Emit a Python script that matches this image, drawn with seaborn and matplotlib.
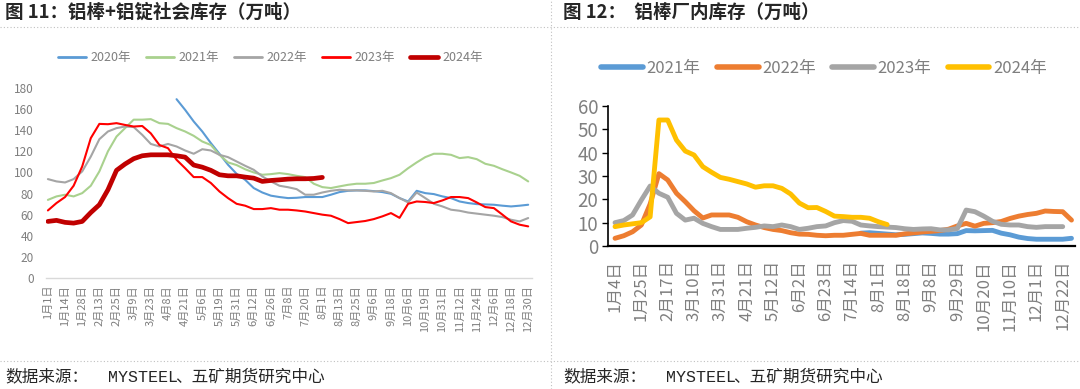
import numpy as np
import pandas as pd
import seaborn as sns
import matplotlib.pyplot as plt
from matplotlib.lines import Line2D

nan = np.nan

# ---- 图11: 铝棒+铝锭社会库存 (sampled every 4.5 trading days) ----
left_ticks = ["1月1日", "1月14日", "1月28日", "2月13日", "2月25日", "3月9日", "3月23日",
              "4月8日", "4月21日", "5月6日", "5月19日", "5月31日", "6月12日", "6月26日",
              "7月8日", "7月20日", "8月1日", "8月13日", "8月25日", "9月6日", "9月18日",
              "10月6日", "10月19日", "10月31日", "11月12日", "11月24日", "12月6日",
              "12月18日", "12月30日"]

soc_2020 = [nan] * 15 + [169.4, 159.3, 148.3, 138.8, 127.8, 117.7, 107.3, 98.7, 93, 85.2, 81, 78, 76.7,
                         75.7, 76, 76.7, 76.7, 76.7, 78.9, 81.4, 82.6, 83, 83, 82.3, 81.4, 79.8, 75.7,
                         72.5, 82.6, 80.4, 79.5, 77.3, 75.7, 72.5, 71, 70, 69.7, 69.4, 68.5, 67.8, 68.5, 69.4]
soc_2021 = [74, 77.3, 78.9, 77.3, 80.4, 87.4, 101, 120, 134, 142, 150, 150, 150.5, 146.7, 146, 142,
            138.8, 134.7, 129.3, 126, 116.7, 109.5, 107, 103, 100, 97.8, 98.4, 99.4,
            98.4, 96.8, 95.6, 89.3, 86.1, 85.2, 86.8, 88.3, 89.3, 89.3, 90, 92.4, 94.6, 97.8, 104,
            109.5, 114.5, 117.7, 117.7, 116.7, 113.6, 114.5, 112.6, 108.2, 106.3, 103, 100, 96.8, 91.5]
soc_2022 = [93.7, 91.5, 90.5, 93.7, 101, 115, 131.5, 138.8, 142, 143.5, 143, 135.6, 127, 124.6, 127,
            124.6, 120.8, 117.7, 122, 120.8, 116.7, 114.5, 110.4, 106.3, 102.5, 96.2, 91.5, 87.4,
            86, 84.2, 78.9, 78.9, 81, 82.6, 83.6, 83, 83, 82.6, 82, 82.6, 80.4, 75.7, 71.6, 81,
            75.7, 70.3, 67.8, 64.7, 63.7, 62, 61, 60, 59, 57.7, 55.2, 53.6, 56.8]
soc_2023 = [64, 71, 76.7, 87.4, 105.7, 132.5, 146, 145.7, 146.7, 145, 143.5, 144, 137, 126, 123, 112,
            104, 95.6, 95.6, 90, 82, 75.7, 70.3, 68.5, 65.3, 65.3, 66.2, 64.7,
            64.7, 64, 63, 61.5, 60, 59, 55.8, 52, 53, 54, 55.8, 58.4, 61.5, 57, 70.3, 72.5, 72, 71,
            73.5, 76.7, 76.7, 75.7, 71.6, 67.2, 66.2, 60, 53.6, 50.5, 48.9]
soc_2024 = [53.6, 54.6, 52.7, 52, 53.6, 62, 69.4, 83.6, 102, 108, 113, 115.8, 116.7, 116.7, 116.7,
            115.8, 114.5, 107, 105, 102, 97.8, 96.8, 96.8, 95.6, 94.6, 91.5, 92.4, 93, 93.7, 94,
            94, 94.3, 95.3] + [nan] * 24

# ---- 图12: 铝棒厂内库存 (weekly) ----
right_ticks = ["1月4日", "1月25日", "2月17日", "3月10日", "3月31日", "4月21日", "5月12日", "6月2日",
               "6月23日", "7月14日", "8月1日", "8月18日", "9月8日", "9月29日", "10月20日",
               "11月10日", "12月1日", "12月22日"]

plant_2021 = [nan] * 28 + [5.5, 5.7, 5.4, 5.1, 4.8, 5, 5.3, 5.6, 5.4, 5.1, 5.1, 5.3, 6.6, 6.5, 6.6,
                           6.7, 5.5, 4.8, 3.8, 3.2, 2.9, 2.9, 2.9, 2.9, 3.3]
plant_2022 = [3.3, 4.4, 6.1, 9, 18, 31, 28.3, 22.6, 19, 15.1, 12, 13.3, 13.3, 13.3, 12.3, 10.4, 9,
              7.9, 7.1, 6.6, 5.7, 5.1, 5, 4.6, 4.4, 4.6, 4.6, 5, 5.4, 4.6, 4.6, 4.6, 4.6, 5.2, 5.6,
              6, 6.3, 6.6, 7.2, 8.6, 9.7, 8.5, 9.7, 10, 10.5, 11.8, 12.8, 13.5, 14, 15, 14.8, 14.7, 11.1]
plant_2023 = [10, 10.9, 13.3, 19.7, 25.7, 22.6, 20.9, 14, 11.1, 11.9, 9.7, 8.3, 7.1, 7.1, 7.1, 7.6,
              8, 8.6, 8.3, 9, 8.3, 7.1, 7.6, 8.3, 8.6, 10, 10.9, 10.6, 9, 8.6, 8.3, 8.1, 7.9, 7.4,
              7.1, 7.3, 7.4, 6.9, 6.9, 7.5, 15.4, 14.7, 12.8, 10.6, 9.3, 9, 9, 8.3, 8, 8.3, 8.3, 8.3, nan]
plant_2024 = [8.3, 9, 9.5, 10, 12.5, 54, 54, 45.4, 40.7, 39, 34, 31.6, 29.4, 28.6, 27.6, 26.6, 25.2,
              25.8, 25.8, 24.7, 22.3, 18.4, 16.4, 16.5, 14.8, 12.8, 12.6, 12.3, 12.3, 11.9, 10.4,
              9.2] + [nan] * 21

left_years = ["2020年", "2021年", "2022年", "2023年", "2024年"]
left_colors = ["#5B9BD5", "#A9D18E", "#A5A5A5", "#FF0000", "#C00000"]
left_widths = [1.5, 1.5, 1.5, 1.5, 3.4]
right_years = ["2021年", "2022年", "2023年", "2024年"]
right_colors = ["#5B9BD5", "#ED7D31", "#A5A5A5", "#FFC000"]

sns.set_style("white")
plt.rcParams['font.family'] = ['Noto Sans CJK SC', 'DejaVu Sans']


def to_long(series, years, x):
    frames = []
    for name, vals in zip(years, series):
        frames.append(pd.DataFrame({"x": x, "v": vals, "year": name}))
    return pd.concat(frames, ignore_index=True).dropna()


x_left = np.arange(len(soc_2021)) * 4.5
x_right = np.arange(len(plant_2022))
df_left = to_long([soc_2020, soc_2021, soc_2022, soc_2023, soc_2024], left_years, x_left)
df_right = to_long([plant_2021, plant_2022, plant_2023, plant_2024], right_years, x_right)

fig = plt.figure(figsize=(10.8, 3.89), dpi=100)
ax1 = fig.add_axes([46 / 1080, 1 - 278 / 389, 486 / 1080, 190 / 389])
ax2 = fig.add_axes([608 / 1080, 1 - 246 / 389, 467 / 1080, 140 / 389])

# left chart
for name, c, lw in zip(left_years, left_colors, left_widths):
    sns.lineplot(data=df_left[df_left.year == name], x="x", y="v", color=c, linewidth=lw,
                 ax=ax1, legend=False, sort=False, estimator=None)
ax1.set_xlim(-1, 254)
ax1.set_ylim(0, 180)
ax1.set_yticks(range(0, 181, 20))
ax1.set_xticks(np.arange(0, 253, 9))
ax1.set_xticklabels(left_ticks, rotation=90, fontsize=8, color="#7f7f7f")
ax1.tick_params(axis="y", labelsize=8.5, labelcolor="#7f7f7f", length=0, pad=9)
ax1.tick_params(axis="x", length=0, pad=5)
for s in ["left", "right", "top"]:
    ax1.spines[s].set_visible(False)
ax1.spines["bottom"].set_color("#d9d9d9")
ax1.spines["bottom"].set_linewidth(1)
ax1.set_xlabel("")
ax1.set_ylabel("")
h1 = [Line2D([], [], color=c, lw=lw if lw > 2 else 2) for c, lw in zip(left_colors, left_widths)]
fig.legend(h1, left_years, loc="center", bbox_to_anchor=(270 / 1080, 1 - 58 / 389), ncol=5,
           frameon=False, fontsize=9, handlelength=2.3, handletextpad=0.3, columnspacing=1.2,
           labelcolor="#7f7f7f")

# right chart
for name, c in zip(right_years, right_colors):
    sns.lineplot(data=df_right[df_right.year == name], x="x", y="v", color=c, linewidth=3.5,
                 ax=ax2, legend=False, sort=False, estimator=None)
ax2.set_xlim(-0.8, 52.4)
ax2.set_ylim(0, 60)
ax2.set_yticks(range(0, 61, 10))
ax2.set_xticks(np.arange(0, 52, 3))
ax2.set_xticklabels(right_ticks, rotation=90, fontsize=12, color="#7f7f7f")
ax2.tick_params(axis="y", labelsize=13.5, labelcolor="#7f7f7f", length=4, width=1, color="black",
                direction="out", left=True, pad=3)
ax2.tick_params(axis="x", length=0, pad=10)
for s in ["right", "top"]:
    ax2.spines[s].set_visible(False)
ax2.spines["left"].set_color("black")
ax2.spines["left"].set_linewidth(1.2)
ax2.spines["bottom"].set_color("black")
ax2.spines["bottom"].set_linewidth(1.6)
ax2.set_xlabel("")
ax2.set_ylabel("")
h2 = [Line2D([], [], color=c, lw=4, solid_capstyle="round") for c in right_colors]
fig.legend(h2, right_years, loc="center", bbox_to_anchor=(824 / 1080, 1 - 68 / 389), ncol=4,
           frameon=False, fontsize=12, handlelength=2.5, handletextpad=0.2, columnspacing=1.0,
           labelcolor="#7f7f7f")

# titles, sources, dotted frame lines
fig.text(5 / 1080, 1 - 12 / 389, "图 11：铝棒+铝锭社会库存（万吨）", fontsize=13.3, fontweight="bold",
         va="center", ha="left")
fig.text(563 / 1080, 1 - 12 / 389, "图 12：  铝棒厂内库存（万吨）", fontsize=13.3, fontweight="bold",
         va="center", ha="left")
for x0 in (5, 563):
    y0 = 1 - 377 / 389
    fig.text(x0 / 1080, y0, "数据来源：", fontsize=12, va="center", ha="left")
    fig.text((x0 + 103) / 1080, y0, "MYSTEEL", fontsize=12, va="center", ha="left",
             family=["Liberation Mono", "DejaVu Sans Mono"])
    fig.text((x0 + 170) / 1080, y0, "、五矿期货研究中心", fontsize=12, va="center", ha="left")
dot = dict(transform=fig.transFigure, color="#c0c0c0", lw=0.8, linestyle=(0, (1, 2)))
fig.add_artist(Line2D([0, 1], [1 - 27 / 389] * 2, **dot))
fig.add_artist(Line2D([0, 1], [1 - 361 / 389] * 2, **dot))
fig.add_artist(Line2D([551 / 1080] * 2, [0, 1], **dot))

fig.savefig("out.png", dpi=100)
